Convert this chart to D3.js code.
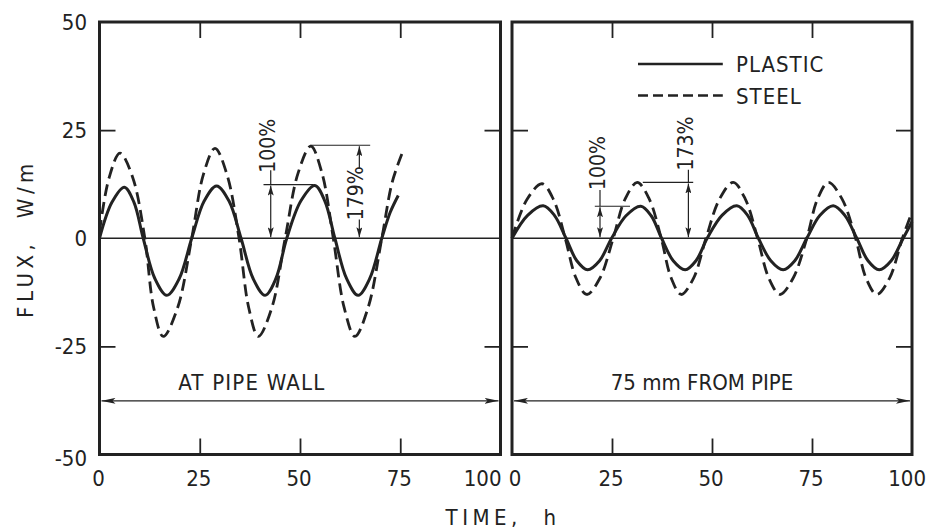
<!DOCTYPE html>
<html>
<head>
<meta charset="utf-8">
<script src="https://cdn.jsdelivr.net/npm/d3@7/dist/d3.min.js"></script>
<style>
  html, body { margin: 0; padding: 0; background: #fff; }
  svg { display: block; }
  text { font-family: "Liberation Sans Narrow", "DejaVu Sans Condensed", "Liberation Sans", sans-serif; fill: #222; }
</style>
</head>
<body>
<svg id="chart" width="928" height="531"></svg>
<script>
// ---------------- DATA ----------------
// Left panel: AT PIPE WALL
const leftPlasticT = [0, 3.1, 6.2, 8.6, 10.9, 13.8, 16.8, 19.9, 23, 26.1, 29.2, 32.3, 35.3, 38.3, 41.3, 44, 46.7, 50.2, 53.7, 56.2, 58.7, 61.6, 64.5, 67.4, 70.4, 72.5, 74.5];
const leftPlasticV = [0, 8.3, 11.8, 8.3, 0, -9.3, -13.2, -9.3, 0, 8.6, 12.1, 8.6, 0, -9.3, -13.2, -9.3, 0, 8.6, 12.2, 8.6, 0, -9.3, -13.2, -9.3, 0, 6, 9.9];
const leftSteelT = [0, 2.4, 5.1, 8.3, 11.3, 13.5, 15.9, 19.5, 23, 25.9, 28.8, 31.8, 34.8, 37.2, 39.6, 43, 46.3, 49.5, 52.7, 55.5, 58.3, 61, 63.7, 67, 70.4, 73, 75.4];
const leftSteelV = [1.5, 14, 19.7, 14, 0, -16, -22.7, -16, 0, 14.7, 20.8, 14.7, 0, -16, -22.7, -16, 0, 15, 21.3, 15, 0, -16, -22.7, -16, 0, 13, 19.5];

// Right panel: 75 mm FROM PIPE
const rightPlasticT = [0, 3.9, 7.8, 10.6, 13.5, 16.2, 18.9, 21.9, 24.9, 28.5, 32.2, 34.8, 37.4, 40.3, 43.3, 46, 48.8, 52.5, 56.2, 58.9, 61.6, 64.7, 67.8, 70.7, 73.7, 77, 80.3, 83.2, 86.2, 89, 91.8, 94.8, 97.8, 100];
const rightPlasticV = [0, 5.3, 7.5, 5.3, 0, -5.2, -7.3, -5.2, 0, 5.2, 7.4, 5.2, 0, -5.2, -7.3, -5.2, 0, 5.3, 7.5, 5.3, 0, -5.2, -7.3, -5.2, 0, 5.3, 7.5, 5.3, 0, -5.2, -7.3, -5.2, 0, 3.8];
const rightSteelT = [0, 3.7, 7.5, 10.4, 13.3, 16, 18.7, 22, 25.3, 28.3, 31.3, 34.3, 37.3, 39.8, 42.3, 45.4, 48.5, 51.9, 55.3, 58.3, 61.4, 64.2, 67, 70.3, 73.7, 76.4, 79.1, 82.5, 85.9, 88.5, 91.2, 94.4, 97.6, 100];
const rightSteelV = [0, 8.9, 12.6, 8.9, 0, -9.2, -13, -9.2, 0, 9.1, 12.9, 9.1, 0, -9.2, -13, -9.2, 0, 9.1, 12.9, 9.1, 0, -9.2, -13, -9.2, 0, 9.1, 12.9, 9.1, 0, -9.2, -13, -9.2, 0, 6];

// Axis ticks and labels
const xTickValues = [0, 25, 50, 75, 100];
const yTickValues = [50, 25, 0, -25, -50];
const innerXTicks = [25, 50, 75];
const innerYTicks = [25, -25];

const seriesNames = ["PLASTIC", "STEEL"];
const panelTitles = ["AT PIPE WALL", "75 mm FROM PIPE"];
const yAxisTitle = "FLUX,  W/m";
const xAxisTitle = "TIME,  h";

// Amplitude annotations (data units: t, flux)
const annotations = [
  { panel: 0, label: "100%", t: 42.7, level: 12.4, from: 40.9, to: 53.4, textT: 41.9, textMid: 21.4, textTop: 26.5, textBot: 16.2, split: false },
  { panel: 0, label: "179%", t: 64.8, level: 21.5, from: 52.6, to: 67.5, textT: 63.9, textMid: 10.4, textTop: 15.8, textBot: 4.8, split: true },
  { panel: 1, label: "100%", t: 22.0, level: 7.4, from: 20.7, to: 29.5, textT: 21.4, textMid: 17.4, textTop: 22.8, textBot: 11.6, split: false },
  { panel: 1, label: "173%", t: 44.1, level: 12.9, from: 32.7, to: 45.3, textT: 43.3, textMid: 21.9, textTop: 27.3, textBot: 16.3, split: false }
];

// ---------------- CHART ----------------
const svg = d3.select("#chart");
const ink = "#222";

const y = d3.scaleLinear().domain([-50, 50]).range([454.5, 22]);
const xs = [
  d3.scaleLinear().domain([0, 100]).range([99.5, 500.5]),
  d3.scaleLinear().domain([0, 100]).range([512, 912])
];

const defs = svg.append("defs");
defs.append("marker")
  .attr("id", "arr")
  .attr("viewBox", "0 0 10 6")
  .attr("refX", 10).attr("refY", 3)
  .attr("markerWidth", 10).attr("markerHeight", 6)
  .attr("markerUnits", "userSpaceOnUse")
  .attr("orient", "auto-start-reverse")
  .append("path").attr("d", "M0,0 L10,3 L0,6 L2,3 Z").attr("fill", ink);
defs.append("marker")
  .attr("id", "arrLong")
  .attr("viewBox", "0 0 14 6")
  .attr("refX", 14).attr("refY", 3)
  .attr("markerWidth", 14).attr("markerHeight", 6)
  .attr("markerUnits", "userSpaceOnUse")
  .attr("orient", "auto-start-reverse")
  .append("path").attr("d", "M0,0 L14,3 L0,6 L3,3 Z").attr("fill", ink);

const panelData = [
  { plastic: d3.zip(leftPlasticT, leftPlasticV), steel: d3.zip(leftSteelT, leftSteelV) },
  { plastic: d3.zip(rightPlasticT, rightPlasticV), steel: d3.zip(rightSteelT, rightSteelV) }
];

panelData.forEach((pd, i) => {
  const x = xs[i];
  const g = svg.append("g");
  const x0 = x.range()[0], x1 = x.range()[1];
  const yTop = y.range()[1], yBot = y.range()[0];

  // zero line
  g.append("line")
    .attr("x1", x(0)).attr("x2", x(100))
    .attr("y1", y(0)).attr("y2", y(0))
    .attr("stroke", ink).attr("stroke-width", 1.5);

  // inward ticks via d3 axes
  const tickStyle = sel => {
    sel.select(".domain").remove();
    sel.selectAll(".tick text").remove();
    sel.selectAll(".tick line").attr("stroke", ink).attr("stroke-width", 1.8);
  };
  g.append("g").attr("transform", `translate(0,${yBot})`)
    .call(d3.axisBottom(x).tickValues(innerXTicks).tickSize(-16)).call(tickStyle);
  g.append("g").attr("transform", `translate(0,${yTop})`)
    .call(d3.axisTop(x).tickValues(innerXTicks).tickSize(-16)).call(tickStyle);
  g.append("g").attr("transform", `translate(${x0},0)`)
    .call(d3.axisLeft(y).tickValues(innerYTicks).tickSize(-16)).call(tickStyle);
  g.append("g").attr("transform", `translate(${x1},0)`)
    .call(d3.axisRight(y).tickValues(innerYTicks).tickSize(-16)).call(tickStyle);

  // curves
  const line = d3.line().x(d => x(d[0])).y(d => y(d[1])).curve(d3.curveCatmullRom.alpha(0.5));
  g.append("path").datum(pd.steel)
    .attr("d", line).attr("fill", "none")
    .attr("stroke", ink).attr("stroke-width", 2.8)
    .attr("stroke-dasharray", "12,6");
  g.append("path").datum(pd.plastic)
    .attr("d", line).attr("fill", "none")
    .attr("stroke", ink).attr("stroke-width", 3);

  // frame
  g.append("rect")
    .attr("x", x0).attr("y", yTop)
    .attr("width", x1 - x0).attr("height", yBot - yTop)
    .attr("fill", "none").attr("stroke", ink).attr("stroke-width", 3);

  // x tick labels
  g.selectAll("text.xt").data(xTickValues).join("text")
    .attr("class", "xt")
    .attr("x", d => {
      if (i === 0 && d === 100) return x(d) + 1;
      if (i === 1 && d === 0) return x(d) + 3;
      if (i === 1 && d === 100) return x(d) + 14;
      return x(d) - 1;
    })
    .attr("y", 486)
    .attr("text-anchor", d => ((i === 0 && d === 100) || (i === 1 && d === 100)) ? "end" : "middle")
    .attr("font-size", 22)
    .text(d => d);

  // panel title and span arrow
  g.append("line")
    .attr("x1", x(0) + 2).attr("x2", x(100) - 2)
    .attr("y1", y(-37.6)).attr("y2", y(-37.6))
    .attr("stroke", ink).attr("stroke-width", 1.3)
    .attr("marker-start", "url(#arrLong)").attr("marker-end", "url(#arrLong)");
  g.append("text")
    .attr("x", i === 0 ? x(38) : x(47.5))
    .attr("y", y(-35.2))
    .attr("text-anchor", "middle")
    .attr("font-size", 22)
    .attr("letter-spacing", i === 0 ? 1.2 : 0)
    .text(panelTitles[i]);
});

// y tick labels (left panel only)
svg.selectAll("text.yt").data(yTickValues).join("text")
  .attr("class", "yt")
  .attr("x", 87)
  .attr("y", d => y(d) + 8 + (d === -50 ? 3 : 0))
  .attr("text-anchor", "end")
  .attr("font-size", 22)
  .text(d => d);

// annotations
annotations.forEach(a => {
  const x = xs[a.panel];
  const g = svg.append("g");
  g.append("line")
    .attr("x1", x(a.from)).attr("x2", x(a.to))
    .attr("y1", y(a.level)).attr("y2", y(a.level))
    .attr("stroke", ink).attr("stroke-width", 1.2);
  if (a.split) {
    g.append("line")
      .attr("x1", x(a.t)).attr("x2", x(a.t))
      .attr("y1", y(a.textTop) - 2).attr("y2", y(a.level) + 1)
      .attr("stroke", ink).attr("stroke-width", 1.2)
      .attr("marker-end", "url(#arr)");
    g.append("line")
      .attr("x1", x(a.t)).attr("x2", x(a.t))
      .attr("y1", y(a.textBot) + 2).attr("y2", y(0) - 1)
      .attr("stroke", ink).attr("stroke-width", 1.2)
      .attr("marker-end", "url(#arr)");
  } else {
    g.append("line")
      .attr("x1", x(a.t)).attr("x2", x(a.t))
      .attr("y1", y(a.textBot) + 2).attr("y2", y(a.level))
      .attr("stroke", ink).attr("stroke-width", 1.2);
    g.append("line")
      .attr("x1", x(a.t)).attr("x2", x(a.t))
      .attr("y1", y(a.level) + 1).attr("y2", y(0) - 1)
      .attr("stroke", ink).attr("stroke-width", 1.2)
      .attr("marker-start", "url(#arr)").attr("marker-end", "url(#arr)");
  }
  g.append("text")
    .attr("transform", `translate(${x(a.textT)},${y(a.textMid)}) rotate(-90)`)
    .attr("text-anchor", "middle")
    .attr("dy", "0.36em")
    .attr("font-size", 21)
    .text(a.label);
});

// legend (in right panel)
const xr = xs[1];
const legend = svg.append("g");
[0, 1].forEach(k => {
  const ly = y(k === 0 ? 40.3 : 33);
  legend.append("line")
    .attr("x1", xr(31.5)).attr("x2", xr(52.7))
    .attr("y1", ly).attr("y2", ly)
    .attr("stroke", ink).attr("stroke-width", 2.4)
    .attr("stroke-dasharray", k === 0 ? null : "10,5");
  legend.append("text")
    .attr("x", xr(56)).attr("y", ly + 8)
    .attr("font-size", 22)
    .attr("letter-spacing", 1)
    .text(seriesNames[k]);
});

// axis titles
svg.append("text")
  .attr("transform", `translate(25,${238.5}) rotate(-90)`)
  .attr("text-anchor", "middle")
  .attr("dy", "0.36em")
  .attr("font-size", 22)
  .attr("letter-spacing", 4.5)
  .attr("fill", "#333")
  .style("white-space", "pre")
  .text(yAxisTitle);
svg.append("text")
  .attr("x", 503).attr("y", 525)
  .attr("text-anchor", "middle")
  .attr("font-size", 22)
  .attr("letter-spacing", 4.5)
  .attr("fill", "#333")
  .style("white-space", "pre")
  .text(xAxisTitle);
</script>
</body>
</html>
